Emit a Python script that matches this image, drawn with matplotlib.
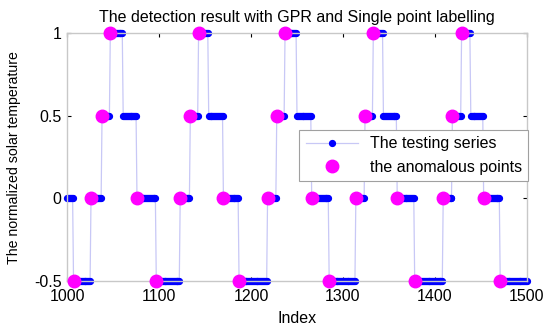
import numpy as np
import matplotlib
matplotlib.use("Agg")
import matplotlib.pyplot as plt

plt.rcParams['font.family'] = ['Liberation Sans', 'DejaVu Sans']

# segment start indices, level of each segment, and whether the start is flagged as anomalous
seg_start = [1000, 1007, 1026, 1038, 1047, 1061, 1076, 1097, 1123, 1134, 1143, 1154,
             1170, 1187, 1218, 1228, 1237, 1250, 1266, 1285, 1314, 1324, 1333, 1344,
             1359, 1378, 1409, 1419, 1429, 1439, 1453, 1471]
seg_level = [0, -0.5, 0, 0.5, 1, 0.5, 0, -0.5, 0, 0.5, 1, 0.5,
             0, -0.5, 0, 0.5, 1, 0.5, 0, -0.5, 0, 0.5, 1, 0.5,
             0, -0.5, 0, 0.5, 1, 0.5, 0, -0.5]
seg_anom = [0, 1, 1, 1, 1, 0, 1, 1, 1, 1, 1, 0,
            1, 1, 1, 1, 1, 0, 1, 1, 1, 1, 1, 0,
            1, 1, 1, 1, 1, 0, 1, 1]
x_end = 1500

x_ticks = [1000, 1100, 1200, 1300, 1400, 1500]
y_ticks = [-0.5, 0, 0.5, 1]
y_ticklabels = ['-0.5', '0', '0.5', '1']

idx = np.arange(seg_start[0], x_end + 1)
bounds = list(seg_start[1:]) + [x_end + 1]
lengths = np.diff([seg_start[0]] + bounds)
vals = np.repeat(seg_level, lengths)

anom_x = [s for s, a in zip(seg_start, seg_anom) if a]
anom_y = [l for l, a in zip(seg_level, seg_anom) if a]

fig = plt.figure(figsize=(5.5, 3.28), dpi=100)
ax = fig.add_axes([0.122, 0.143, 0.836, 0.756])

ax.plot(idx, vals, '-', color='#c8c8f6', lw=0.9, marker='o', ms=4.2,
        mfc='#0000ff', mec='#0000ff', clip_on=False, label='The testing series', zorder=2)
ax.plot(anom_x, anom_y, 'o', color='#ff00ff', ms=9, clip_on=False,
        label='the anomalous points', zorder=3)

ax.set_xlim(1000, 1500)
ax.set_ylim(-0.5, 1)
ax.set_xticks(x_ticks)
ax.set_yticks(y_ticks)
ax.set_yticklabels(y_ticklabels)
ax.tick_params(direction='in', length=3, width=0.8, color='black', top=True, right=True,
               labelsize=11.5)
ax.tick_params(axis='x', pad=6)
ax.tick_params(axis='y', pad=4)
for sp in ax.spines.values():
    sp.set_color('#c8c8c8')
    sp.set_linewidth(1.0)

ax.set_title('The detection result with GPR and Single point labelling', fontsize=11.5, pad=8)
ax.set_xlabel('Index', fontsize=11.5, labelpad=5)
ax.set_ylabel('The normalized solar temperature', fontsize=10.2, labelpad=9)

leg = ax.legend(loc='upper left', bbox_to_anchor=(0.505, 0.61), fontsize=11.5,
                frameon=True, fancybox=False, framealpha=1, edgecolor='#a0a0a0',
                handlelength=3.3, borderpad=0.4, labelspacing=0.55, handletextpad=0.7,
                borderaxespad=0)
leg.get_frame().set_linewidth(0.8)

fig.savefig('out.png', dpi=100)
